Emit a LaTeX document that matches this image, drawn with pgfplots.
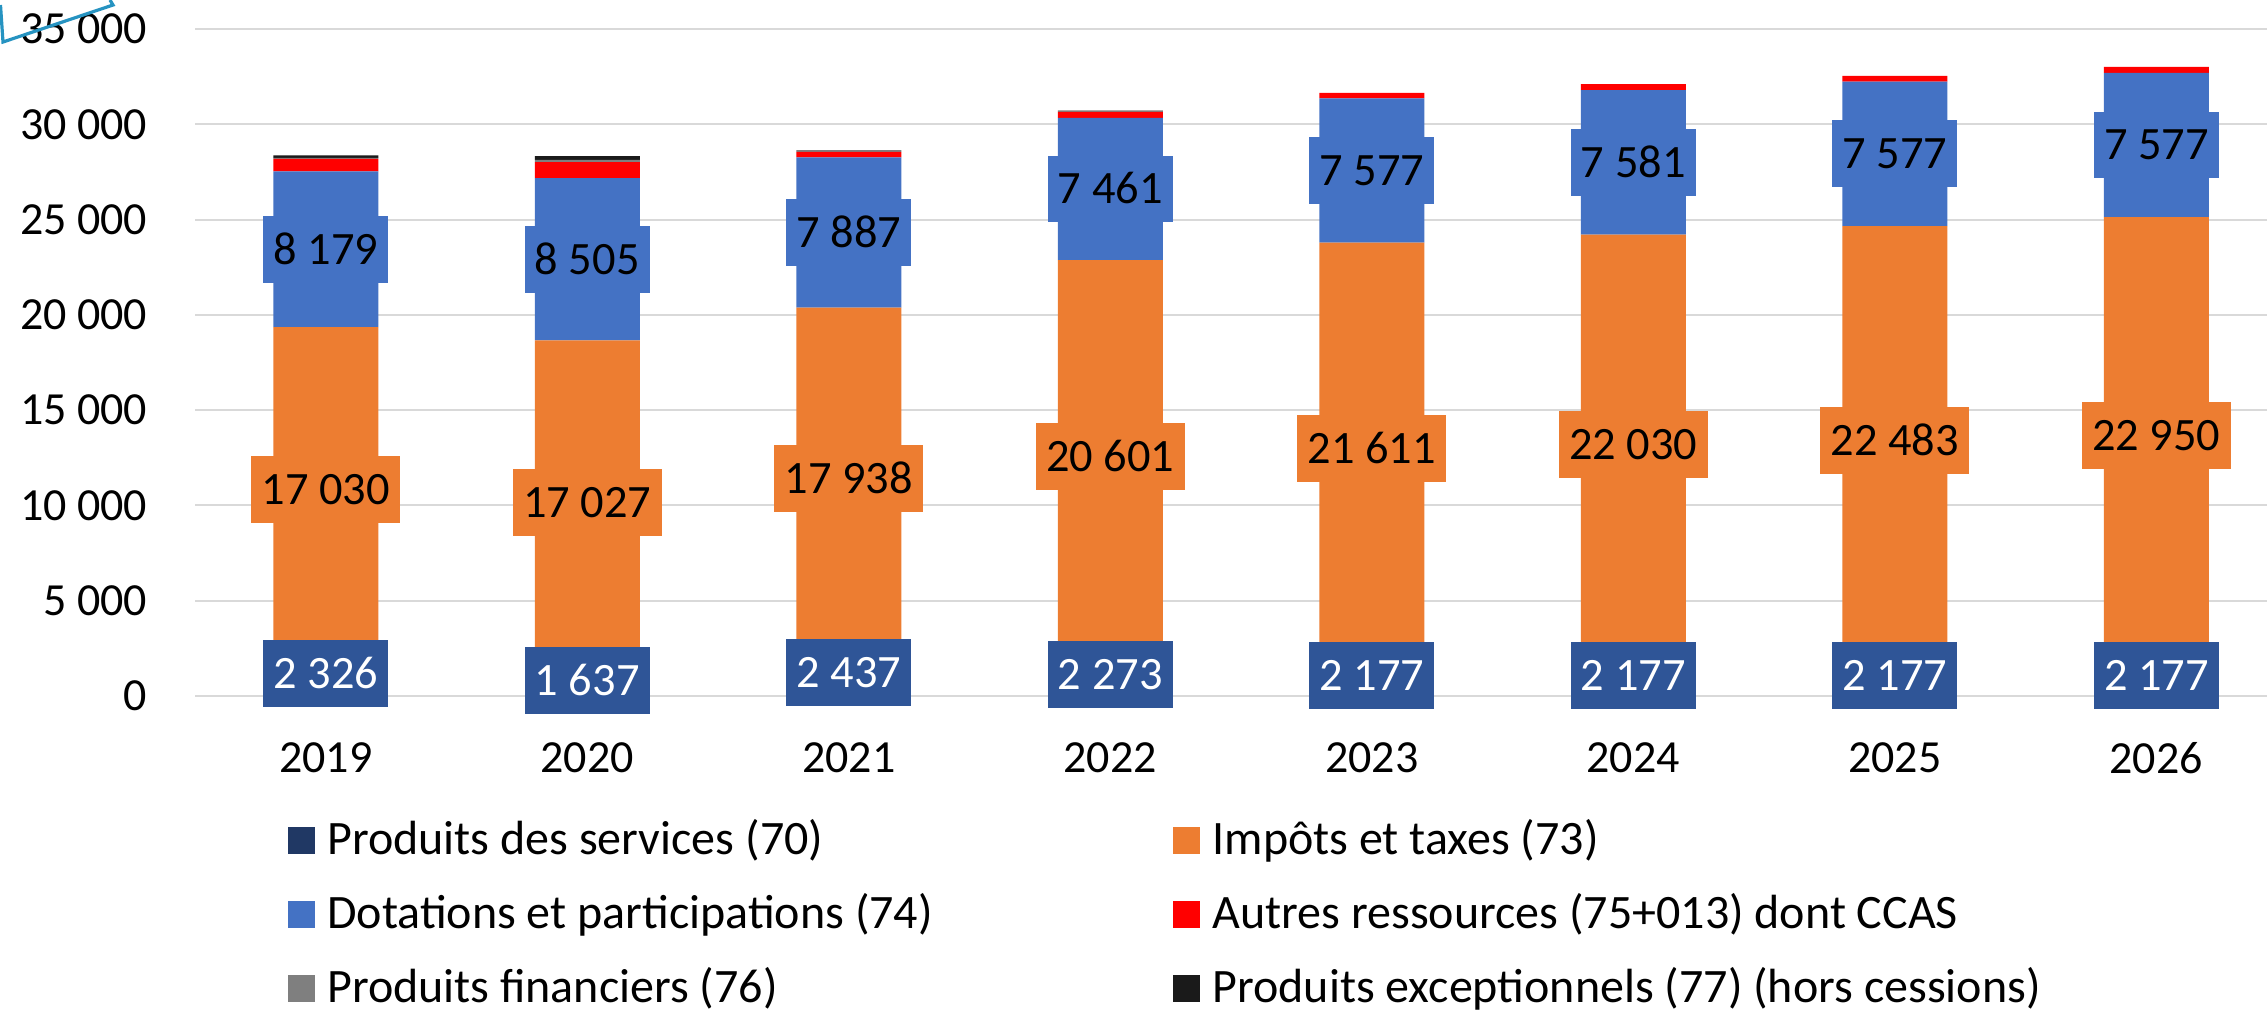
\documentclass[border=0pt]{standalone}
\usepackage{fontspec}
\setmainfont{Carlito}
\usepackage{pgfplots}
\usepackage{pgfplotstable}
\pgfplotsset{compat=1.18}

\definecolor{c70}{HTML}{203864}
\definecolor{c70lab}{HTML}{2F5597}
\definecolor{c73}{HTML}{ED7D31}
\definecolor{c74}{HTML}{4472C4}
\definecolor{c75}{HTML}{FF0000}
\definecolor{c76}{HTML}{7F7F7F}
\definecolor{c77}{HTML}{1A1A1A}
\definecolor{gridc}{HTML}{D9D9D9}
\definecolor{tealdeco}{RGB}{38,147,193}

\pgfplotstableread{
x s70 s73 s74 s75 s76 s77
0 2326 17030 8179 655 50 128
1 1637 17027 8505 840 120 196
2 2437 17938 7887 295 90 0
3 2273 20601 7461 320 70 0
4 2177 21611 7577 290 0 0
5 2177 22030 7581 325 0 0
6 2177 22483 7577 305 0 0
7 2177 22950 7577 310 0 0
}\bars

\pgfplotstableread{
x m70 v70 m73 v73 m74 v74
0 1163 2326 10841 17030 23445.5 8179
1 818.5 1637 10150.5 17027 22916.5 8505
2 1218.5 2437 11406 17938 24318.5 7887
3 1136.5 2273 12573.5 20601 26604.5 7461
4 1088.5 2177 12982.5 21611 27576.5 7577
5 1088.5 2177 13192 22030 27997.5 7581
6 1088.5 2177 13418.5 22483 28448.5 7577
7 1088.5 2177 13652 22950 28915.5 7577
}\labels

\pgfplotsset{
  geom/.style={scale only axis, width=523pt, height=166.75pt,
    xmin=-0.5, xmax=7.5, ymin=0, ymax=35000,
    at={(48.75pt,78.5pt)}, anchor=south west},
  mylegend/.style={legend image code/.code={\fill[##1] (0pt,0pt) rectangle (6.8pt,6.8pt);}},
  lab/.style={draw=none, mark=none, nodes near coords, point meta=explicit,
    every node near coord/.append style={anchor=center,
      font=\fontsize{11.6}{13}\selectfont, inner xsep=2.6pt, inner ysep=4.6pt,
      text height=7.5pt, text depth=0pt}}
}

\begin{document}
\begin{tikzpicture}
\path[use as bounding box] (0,0) rectangle (566.75pt,252.5pt);
\begin{axis}[geom,
  ybar stacked, bar width=26.25pt,
  axis lines*=left, axis line style={draw=none},
  major tick length=0pt,
  ymajorgrids, grid style={draw=gridc, line width=0.5pt},
  xtick={0,1,2,3,4,5,6,7},
  xticklabels={2019,2020,2021,2022,2023,2024,2025,2026},
  ytick={0,5000,10000,15000,20000,25000,30000,35000},
  scaled y ticks=false,
  /pgf/number format/.cd, 1000 sep={\ }, assume math mode=true, /pgfplots/.cd,
  tick label style={font=\fontsize{11.5}{13}\selectfont, inner sep=0pt},
  yticklabel style={anchor=east, xshift=-11.75pt},
  xticklabel style={anchor=north, yshift=-11.5pt},
  legend columns=2,
  legend style={at={(0.044264,-0.18291)}, anchor=north west, draw=none, fill=none,
    inner sep=0pt, outer sep=0pt, font=\fontsize{12}{14}\selectfont,
    row sep=7pt, column sep=0pt,
    cells={anchor=base west},
    nodes={inner sep=0pt, text height=9pt, text depth=2.5pt},
    /tikz/every odd column/.append style={column sep=3.1pt}},
]
\addplot[fill=c70, draw=none, mylegend] table[x=x, y=s70] {\bars};
\addlegendentry{\makebox[211.45pt][l]{Produits des services (70)}}
\addplot[fill=c73, draw=none, mylegend] table[x=x, y=s73] {\bars};
\addlegendentry{Impôts et taxes (73)}
\addplot[fill=c74, draw=none, mylegend] table[x=x, y=s74] {\bars};
\addlegendentry{\makebox[211.45pt][l]{Dotations et participations (74)}}
\addplot[fill=c75, draw=none, mylegend] table[x=x, y=s75] {\bars};
\addlegendentry{Autres ressources (75+013) dont CCAS}
\addplot[fill=c76, draw=none, mylegend] table[x=x, y=s76] {\bars};
\addlegendentry{\makebox[211.45pt][l]{Produits financiers (76)}}
\addplot[fill=c77, draw=none, mylegend] table[x=x, y=s77] {\bars};
\addlegendentry{Produits exceptionnels (77) (hors cessions)}
\end{axis}
\begin{axis}[geom, hide axis, clip=false,
  /pgf/number format/.cd, 1000 sep={\ }, assume math mode=true, /pgfplots/.cd]
\addplot[lab, every node near coord/.append style={fill=c70lab, text=white}]
  table[x=x, y=m70, meta=v70] {\labels};
\addplot[lab, every node near coord/.append style={fill=c73, text=black}]
  table[x=x, y=m73, meta=v73] {\labels};
\addplot[lab, every node near coord/.append style={fill=c74, text=black}]
  table[x=x, y=m74, meta=v74] {\labels};
\end{axis}
\draw[tealdeco, line width=0.8pt] (0.125pt,251.25pt) -- (0.75pt,242pt) -- (28.25pt,251.25pt) -- (27.5pt,252.5pt);
\end{tikzpicture}
\end{document}
